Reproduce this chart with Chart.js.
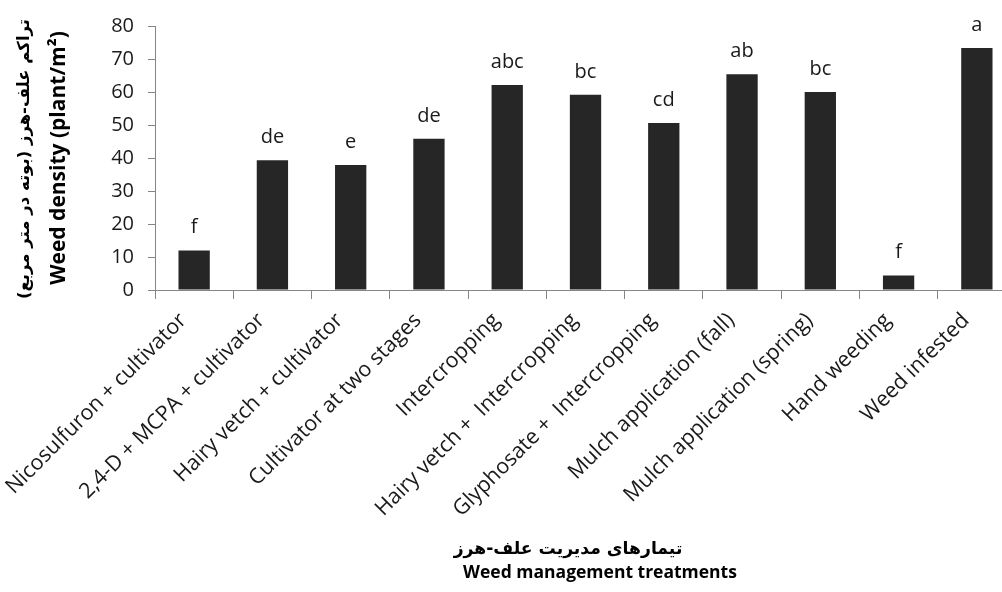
<!DOCTYPE html>
<html>
<head>
<meta charset="utf-8">
<script src="https://cdn.jsdelivr.net/npm/chart.js@4"></script>
<style>
  html, body { margin: 0; padding: 0; background: #fff; overflow: hidden; }
  #wrap { width: 1016px; height: 592px; }
</style>
</head>
<body>
<div id="wrap"><canvas id="grafico" width="1016" height="592"></canvas></div>
<script>
const treatments = [
  'Nicosulfuron + cultivator', '2,4-D + MCPA + cultivator', 'Hairy vetch + cultivator',
  'Cultivator at two stages', 'Intercropping', 'Hairy vetch +  Intercropping',
  'Glyphosate +  Intercropping', 'Mulch application (fall)', 'Mulch application (spring)',
  'Hand weeding', 'Weed infested'
];
const density = [12.0, 39.3, 37.9, 45.8, 62.1, 59.2, 50.6, 65.4, 60.0, 4.4, 73.3];
const letters = ['f', 'de', 'e', 'de', 'abc', 'bc', 'cd', 'ab', 'bc', 'f', 'a'];
const yTicks = [0, 10, 20, 30, 40, 50, 60, 70, 80];

const yTitleFa = '\u200Fتراکم علف-هرز (بوته در متر مربع)\u200F';
const yTitleEn = 'Weed density (plant/m²)';
const xTitleFa = '\u200Fتیمارهای مدیریت علف-هرز\u200F';
const xTitleEn = 'Weed management treatments';

const fonte = "'Open Sans', 'DejaVu Sans', sans-serif";
const fonteFa = "'DejaVu Sans', sans-serif";
const eixo = '#868686';

// letras de significancia acima das barras
const letrasPlugin = {
  id: 'letras',
  afterDatasetsDraw(chart) {
    const ctx = chart.ctx;
    const meta = chart.getDatasetMeta(0);
    ctx.save();
    ctx.font = '20px ' + fonte;
    ctx.fillStyle = '#1a1a1a';
    ctx.textAlign = 'center';
    ctx.textBaseline = 'alphabetic';
    meta.data.forEach((bar, i) => {
      ctx.fillText(letters[i], bar.x, bar.y - 17);
    });
    ctx.restore();
  }
};

function texto(ctx, txt, x, y, font, rot) {
  ctx.save();
  ctx.fillStyle = '#000';
  ctx.textAlign = 'center';
  ctx.textBaseline = 'middle';
  ctx.font = font;
  ctx.translate(x, y);
  if (rot) ctx.rotate(rot);
  ctx.fillText(txt, 0, 0);
  ctx.restore();
}

// titulos dos eixos em duas linhas (persa + ingles)
const titulosPlugin = {
  id: 'titulos',
  afterDraw(chart) {
    const ctx = chart.ctx;
    const meio = (chart.chartArea.top + chart.chartArea.bottom) / 2;
    texto(ctx, yTitleFa, 25, meio + 1, 'bold 16.5px ' + fonteFa, -Math.PI / 2);
    texto(ctx, yTitleEn, 59, meio, 'bold 21px ' + fonte, -Math.PI / 2);
    texto(ctx, xTitleFa, 568, 550, 'bold 17.2px ' + fonteFa, 0);
    texto(ctx, xTitleEn, 600, 573, 'bold 17.5px ' + fonte, 0);
  }
};

new Chart(document.getElementById('grafico'), {
  type: 'bar',
  data: {
    labels: treatments,
    datasets: [{
      data: density,
      backgroundColor: '#262626',
      barPercentage: 0.4,
      categoryPercentage: 1
    }]
  },
  options: {
    responsive: false,
    animation: false,
    layout: { padding: { top: 21, left: 0, right: 0, bottom: 0 } },
    plugins: { legend: { display: false }, tooltip: { enabled: false } },
    scales: {
      x: {
        grid: { display: true, drawOnChartArea: false, offset: true, tickLength: 9, color: eixo },
        border: { color: eixo },
        ticks: {
          autoSkip: false, maxRotation: 45, minRotation: 45,
          labelOffset: -11, padding: 9,
          color: '#1a1a1a', font: { family: fonte, size: 21.4 }
        },
        afterFit: s => { s.height = 302; }
      },
      y: {
        min: 0, max: 80,
        afterBuildTicks: s => { s.ticks = yTicks.map(v => ({ value: v })); },
        grid: { display: true, drawOnChartArea: false, tickLength: 7, color: eixo },
        border: { color: eixo },
        ticks: { padding: 14, color: '#1a1a1a', font: { family: fonte, size: 20 } },
        afterFit: s => { s.width = 155; }
      }
    }
  },
  plugins: [letrasPlugin, titulosPlugin]
});
</script>
</body>
</html>
